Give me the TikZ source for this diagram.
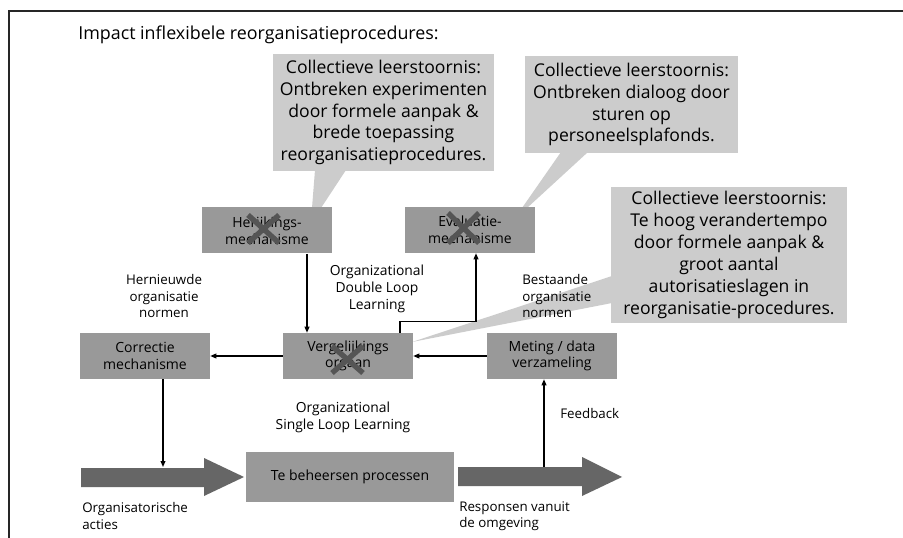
\documentclass[tikz,border=0pt]{standalone}
\usepackage{fontspec}
\setmainfont{Open Sans}
\usetikzlibrary{arrows.meta}
\definecolor{boxgray}{HTML}{999999}
\definecolor{notegray}{HTML}{CCCCCC}
\definecolor{flowgray}{HTML}{666666}
\definecolor{crossgray}{HTML}{555555}
\tikzset{
  x=0.75pt, y=-0.75pt,
  box/.style={fill=boxgray, minimum width=97.5pt, minimum height=34.5pt,
    inner sep=0pt, align=center, font=\fontsize{10.5}{12.5}\selectfont},
  note/.style={fill=notegray, inner sep=0pt, align=center,
    font=\fontsize{13.2}{16.4}\selectfont},
  lbl/.style={inner sep=0pt, font=\fontsize{10}{12.3}\selectfont},
  conn/.style={draw=black, line width=0.9pt,
    -{Triangle[length=4.5pt,width=3.6pt]}},
  cross/.style={draw=crossgray, line width=4pt},
  flow/.style={fill=flowgray},
  tail/.style={fill=notegray},
}
\begin{document}
\begin{tikzpicture}
\useasboundingbox (0,0) rectangle (903,538);
\fill[white] (0,0) rectangle (903,538);
% open frame
\draw[line width=1.2pt, black!85] (9,545) -- (9,11) -- (910,11);

% title
\node[anchor=west, inner sep=0pt, font=\fontsize{13.4}{16}\selectfont] (title) at (78,35)
  {Impact inflexibele reorganisatieprocedures:};

% callout tails
\fill[tail] (315,170) -- (346,170) -- (321,208) -- (312,208) -- cycle;
\fill[tail] (561,152) -- (588,152) -- (527,208) -- (522,208) -- cycle;
\fill[tail] (612,276) -- (612,303) -- (412,342) -- cycle;

% callouts
\node[note, minimum width=165.75pt, minimum height=87.75pt] (c1) at (383.5,112.5)
  {Collectieve leerstoornis:\\Ontbreken experimenten\\door formele aanpak \&\\brede toepassing\\reorganisatieprocedures.};
\node[note, minimum width=159.75pt, minimum height=72.75pt] (c2) at (631.5,104.5)
  {Collectieve leerstoornis:\\Ontbreken dialoog door\\sturen op\\personeelsplafonds.};
\node[note, minimum width=177pt, minimum height=102pt] (c3) at (729,255)
  {Collectieve leerstoornis:\\Te hoog verandertempo\\door formele aanpak \&\\groot aantal\\autorisatieslagen in\\reorganisatie-procedures.};

% mechanism boxes
\node[box] (herijk) at (267,230.5) {Herijkings-\\mechanisme};
\node[box] (evalu) at (470,230) {Evaluatie-\\mechanisme};
\node[box] (correctie) at (145,356) {Correctie\\mechanisme};
\node[box] (vergel) at (348,356) {Vergelijkings\\orgaan};
\node[box] (meting) at (552,356) {Meting / data\\verzameling};
\node[box, minimum width=156pt, minimum height=37.5pt] (proces) at (350,477)
  {Te beheersen processen};

% crosses over disabled mechanisms
\draw[cross] (248,215) -- (279,243) (279,215) -- (248,243);
\draw[cross] (448,213) -- (479,243) (479,213) -- (448,243);
\draw[cross] (332,346) -- (363,373) (363,346) -- (332,373);

% flow arrows
\fill[flow] (81,468) -- (204,468) -- (204,458) -- (244,477) -- (204,496)
  -- (204,487) -- (81,487) -- cycle;
\fill[flow] (458,467) -- (582,467) -- (582,457) -- (622,477) -- (582,496)
  -- (582,486) -- (458,486) -- cycle;
\coordinate (acttop) at (163,467);
\coordinate (resptop) at (544,467);

% connectors
\draw[conn] ([xshift=30pt]herijk.south) -- ([xshift=30pt]herijk.south |- vergel.north);
\draw[conn] (vergel.west) -- (correctie.east);
\draw[conn] (meting.west) -- (vergel.east);
\draw[conn] ([xshift=39pt]vergel.north) -- ++(0,-11) -| ([xshift=4.5pt]evalu.south);
\draw[conn] ([xshift=13.5pt]correctie.south) -- ([xshift=13.5pt]correctie.south |- acttop);
\draw[conn] (resptop) -- (resptop |- meting.south);

% labels
\node[lbl, align=center] (hern) at (164,296) {Hernieuwde\\organisatie\\normen};
\node[lbl, align=center, font=\fontsize{10.4}{12.8}\selectfont] (dbl) at (377,289)
  {Organizational\\Double Loop\\Learning};
\node[lbl, align=left, anchor=west] (best) at (522,296) {Bestaande\\organisatie\\normen};
\node[lbl, anchor=west] (fb) at (560,413) {Feedback};
\node[lbl, align=center, font=\fontsize{10.4}{12.8}\selectfont] (sgl) at (343,417)
  {Organizational\\Single Loop Learning};
\node[lbl, align=left, anchor=west] (acties) at (82,516) {Organisatorische\\acties};
\node[lbl, align=left, anchor=west] (resp) at (459,516) {Responsen vanuit\\de omgeving};
\end{tikzpicture}
\end{document}
